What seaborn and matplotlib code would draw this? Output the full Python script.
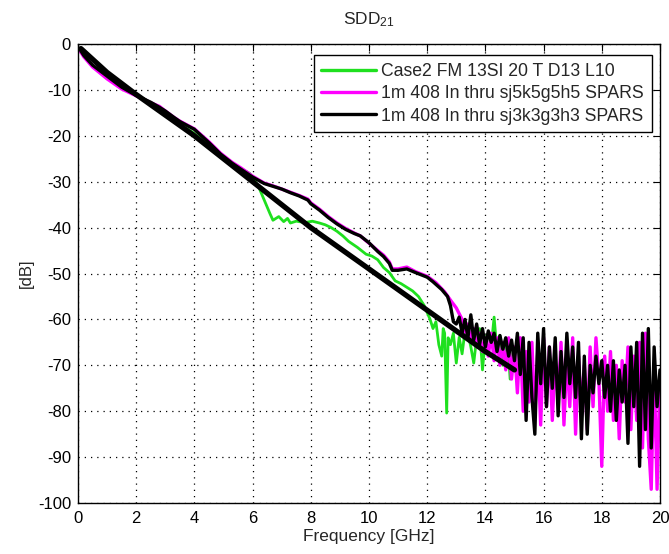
import numpy as np
import pandas as pd
import matplotlib
matplotlib.use("Agg")
import matplotlib.pyplot as plt
import seaborn as sns

# ---------------- data ----------------
series_labels = ["Case2 FM 13SI 20 T D13 L10",
                 "1m 408 In thru sj5k5g5h5 SPARS",
                 "1m 408 In thru sj3k3g3h3 SPARS"]

freq_green = [0.05, 0.2, 0.5, 1.0, 1.5, 2.0, 2.3, 2.5, 2.7, 3.0, 3.5, 4.0, 4.5, 5.0, 5.5, 5.9,
              6.2, 6.4, 6.6, 6.7, 6.9, 7.07, 7.2, 7.3, 7.5, 7.8, 8.05, 8.3, 8.5, 8.7, 8.9, 9.1, 9.3,
              9.6, 9.9, 10.1, 10.3, 10.5, 10.7, 10.9, 11.1, 11.3, 11.5, 11.7, 11.9, 12.0,
              12.1, 12.2, 12.3, 12.4, 12.5, 12.55, 12.6, 12.67, 12.72, 12.8, 12.9, 13.0, 13.1,
              13.2, 13.3, 13.4, 13.5, 13.6, 13.7, 13.8, 13.9, 14.0, 14.1, 14.2, 14.3, 14.4,
              14.5, 14.6, 14.7, 14.8, 14.85, 14.95, 15.0]
sdd_green = [-1.2, -2.6, -4.8, -7.3, -9.3, -11.2, -12.3, -13.4, -14.0, -15.3, -17.3, -19.5,
             -22.0, -24.5, -26.8, -28.2, -31.0, -34.0, -37.0, -38.4, -37.6, -38.7, -38.0,
             -39.0, -38.6, -38.9, -38.6, -39.0, -39.4, -40.0, -40.8, -41.8, -43.0, -44.3,
             -45.8, -46.2, -47.0, -48.7, -49.8, -51.6, -52.2, -53.0, -53.8, -55.0, -57.0,
             -58.5, -60.0, -62.0, -60.5, -65.5, -68.0, -62.0, -63.0, -80.4, -64.0, -65.5,
             -63.0, -69.5, -63.9, -67.5, -62.5, -63.0, -66.0, -69.5, -64.0, -62.0, -71.0,
             -64.0, -63.0, -66.0, -59.5, -67.0, -63.5, -70.0, -65.0, -68.0, -73.0, -66.0,
             -69.0]

freq_magenta = [0.05, 0.2, 0.5, 1.0, 1.5, 2.0, 2.5, 2.8, 3.0, 3.3, 3.5, 4.0, 4.5, 4.9, 5.3,
                5.6, 6.0, 6.4, 6.7, 7.0, 7.3, 7.6, 7.9, 8.0, 8.3, 8.6, 8.9, 9.2, 9.5, 9.7, 10.0,
                10.3, 10.5, 10.7, 10.8, 11.0, 11.3, 11.6, 12.0, 12.3, 12.6, 12.8, 13.0, 13.2,
                13.3, 13.4, 13.5, 13.6, 13.7, 13.8, 13.9, 14.0, 14.1, 14.2, 14.3, 14.4, 14.5,
                14.6, 14.7, 14.8, 14.9, 15.0, 15.1, 15.2, 15.3, 15.4, 15.5, 15.6, 15.7, 15.8,
                15.9, 16.0, 16.1, 16.2, 16.3, 16.4, 16.5, 16.6, 16.7, 16.8, 16.9, 17.0, 17.1,
                17.2, 17.3, 17.4, 17.5, 17.6, 17.7, 17.8, 17.9, 18.0, 18.1, 18.2, 18.3, 18.4,
                18.5, 18.6, 18.7, 18.8, 18.9, 19.0, 19.1, 19.2, 19.3, 19.4, 19.5, 19.6, 19.7,
                19.8, 19.9, 20.0]
sdd_magenta = [-1.3, -2.8, -5.0, -7.6, -9.8, -11.3, -12.8, -13.6, -14.6, -16.0, -16.8, -18.5,
               -21.3, -23.8, -25.8, -27.0, -28.8, -30.3, -30.9, -31.6, -32.3, -33.0, -33.8,
               -34.6, -36.0, -37.6, -39.0, -40.2, -41.2, -41.8, -43.4, -45.0, -46.0, -47.5,
               -49.0, -49.0, -48.6, -49.6, -50.6, -52.0, -54.0, -55.8, -57.5, -60.0, -62.8,
               -61.0, -65.0, -62.0, -66.0, -63.0, -67.0, -64.0, -68.0, -63.0, -69.0, -64.0,
               -70.0, -65.0, -71.0, -64.0, -73.0, -66.0, -76.0, -64.0, -80.0, -67.0, -78.0,
               -65.0, -81.0, -67.0, -83.0, -64.0, -79.0, -66.0, -82.0, -69.0, -77.0, -65.0,
               -83.0, -68.0, -79.0, -64.0, -85.0, -68.0, -80.0, -70.0, -84.0, -66.0, -79.0,
               -64.0, -73.0, -92.0, -68.0, -80.0, -67.0, -82.0, -70.0, -86.0, -69.0, -78.0,
               -66.0, -84.0, -68.0, -82.0, -65.0, -88.0, -63.0, -86.0, -97.0, -70.0, -97.0,
               -72.0]

freq_black = [0.05, 0.2, 0.5, 1.0, 1.5, 2.0, 2.5, 2.8, 3.0, 3.3, 3.5, 4.0, 4.5, 4.9, 5.3, 5.6,
              6.0, 6.4, 6.7, 7.0, 7.3, 7.6, 7.9, 8.0, 8.3, 8.6, 8.9, 9.2, 9.5, 9.7, 10.0, 10.3,
              10.5, 10.7, 10.8, 11.0, 11.3, 11.6, 12.0, 12.2, 12.5, 12.7, 12.8, 12.9, 13.0,
              13.1, 13.2, 13.3, 13.4, 13.5, 13.6, 13.7, 13.8, 13.9, 14.0, 14.1, 14.2, 14.3,
              14.4, 14.5, 14.6, 14.7, 14.8, 14.9, 15.0, 15.1, 15.2, 15.3, 15.4, 15.5, 15.6,
              15.7, 15.8, 15.9, 16.0, 16.1, 16.2, 16.3, 16.4, 16.5, 16.6, 16.7, 16.8, 16.9,
              17.0, 17.1, 17.2, 17.3, 17.4, 17.5, 17.6, 17.7, 17.8, 17.9, 18.0, 18.1, 18.2,
              18.3, 18.4, 18.5, 18.6, 18.7, 18.8, 18.9, 19.0, 19.1, 19.2, 19.3, 19.4, 19.5,
              19.6, 19.7, 19.8, 19.9, 20.0]
sdd_black = [-1.0, -2.5, -4.6, -7.0, -9.4, -11.2, -12.7, -13.8, -14.6, -16.0, -16.9, -18.6,
             -21.5, -24.0, -26.0, -27.3, -29.0, -30.4, -31.0, -31.6, -32.4, -33.1, -34.0,
             -34.8, -36.2, -37.8, -39.2, -40.4, -41.3, -41.8, -43.3, -45.2, -46.3, -47.8,
             -49.3, -49.3, -49.0, -49.8, -50.8, -51.8, -53.5, -55.0, -57.0, -60.5, -61.0,
             -59.5, -63.0, -60.0, -64.0, -59.0, -64.5, -61.0, -65.5, -62.0, -66.0, -62.5,
             -65.0, -63.0, -67.0, -63.5, -66.5, -64.0, -68.0, -64.5, -69.0, -63.0, -72.0,
             -64.0, -82.0, -65.0, -77.0, -85.0, -63.0, -74.0, -62.0, -79.0, -66.0, -75.0,
             -64.0, -81.0, -67.0, -77.0, -63.0, -74.0, -66.0, -77.0, -65.0, -86.0, -68.0,
             -85.0, -70.0, -76.0, -68.0, -74.0, -69.0, -77.0, -70.0, -80.0, -69.0, -82.0,
             -71.0, -78.0, -70.0, -87.0, -66.0, -79.0, -65.0, -92.0, -63.0, -84.0, -62.0,
             -88.0, -66.0, -79.0, -71.0]

# thick straight reference trace (no legend entry)
freq_ref = [0.1, 1.0, 2.0, 4.0, 6.0, 8.0, 10.0, 12.0, 14.0, 15.0]
sdd_ref = [-1.0, -6.2, -11.0, -20.0, -30.0, -40.0, -49.0, -58.0, -67.0, -71.0]

x_ticks = [0, 2, 4, 6, 8, 10, 12, 14, 16, 18, 20]
y_ticks = [0, -10, -20, -30, -40, -50, -60, -70, -80, -90, -100]

# ---------------- plotting ----------------
sns.set_style("white")
plt.rcParams["font.family"] = ["Liberation Sans", "DejaVu Sans"]
plt.rcParams["mathtext.default"] = "regular"
plt.rcParams["axes.unicode_minus"] = False

fig = plt.figure(figsize=(6.69, 5.54), dpi=100)
ax = fig.add_axes([0.1166, 0.092, 0.8699, 0.8286])

df_g = pd.DataFrame({"f": freq_green, "v": sdd_green})
df_m = pd.DataFrame({"f": freq_magenta, "v": sdd_magenta})
df_k = pd.DataFrame({"f": freq_black, "v": sdd_black})
df_r = pd.DataFrame({"f": freq_ref, "v": sdd_ref})

sns.lineplot(data=df_g, x="f", y="v", ax=ax, color="#1fe01f", lw=2.0,
             label=series_labels[0], estimator=None, sort=False)
sns.lineplot(data=df_m, x="f", y="v", ax=ax, color="#ff00ff", lw=2.4,
             label=series_labels[1], estimator=None, sort=False)
sns.lineplot(data=df_k, x="f", y="v", ax=ax, color="black", lw=2.4,
             label=series_labels[2], estimator=None, sort=False)
sns.lineplot(data=df_r, x="f", y="v", ax=ax, color="black", lw=3.8,
             estimator=None, sort=False, legend=False)

ax.set_xlim(0, 20)
ax.set_ylim(-100, 0)
ax.set_xticks(x_ticks)
ax.set_yticks(y_ticks)
ax.tick_params(direction="in", top=True, right=True, length=5, width=0.8,
               labelsize=12, colors="black")
ax.tick_params(axis="x", pad=6)
ax.tick_params(axis="y", pad=5)
ax.grid(True, color="black", linestyle=(0, (1, 4)), linewidth=0.9)
for s in ax.spines.values():
    s.set_color("black")
    s.set_linewidth(1.0)

ax.set_xlabel("Frequency [GHz]", fontsize=12.5, labelpad=2)
ax.set_ylabel("[dB]", fontsize=12, labelpad=3)
ax.set_title("SDD$_{21}$", fontsize=12.5, pad=14)

leg = ax.legend(loc="upper right", fontsize=12.7, frameon=True, fancybox=False,
                edgecolor="black", framealpha=1, handlelength=3.1, labelspacing=0.3,
                borderpad=0.45, handletextpad=0.3, borderaxespad=0,
                bbox_to_anchor=(0.9863, 0.976))
leg.get_frame().set_linewidth(1.0)
for line in leg.get_lines():
    line.set_linewidth(2.4)

fig.savefig("out.png", dpi=100)
